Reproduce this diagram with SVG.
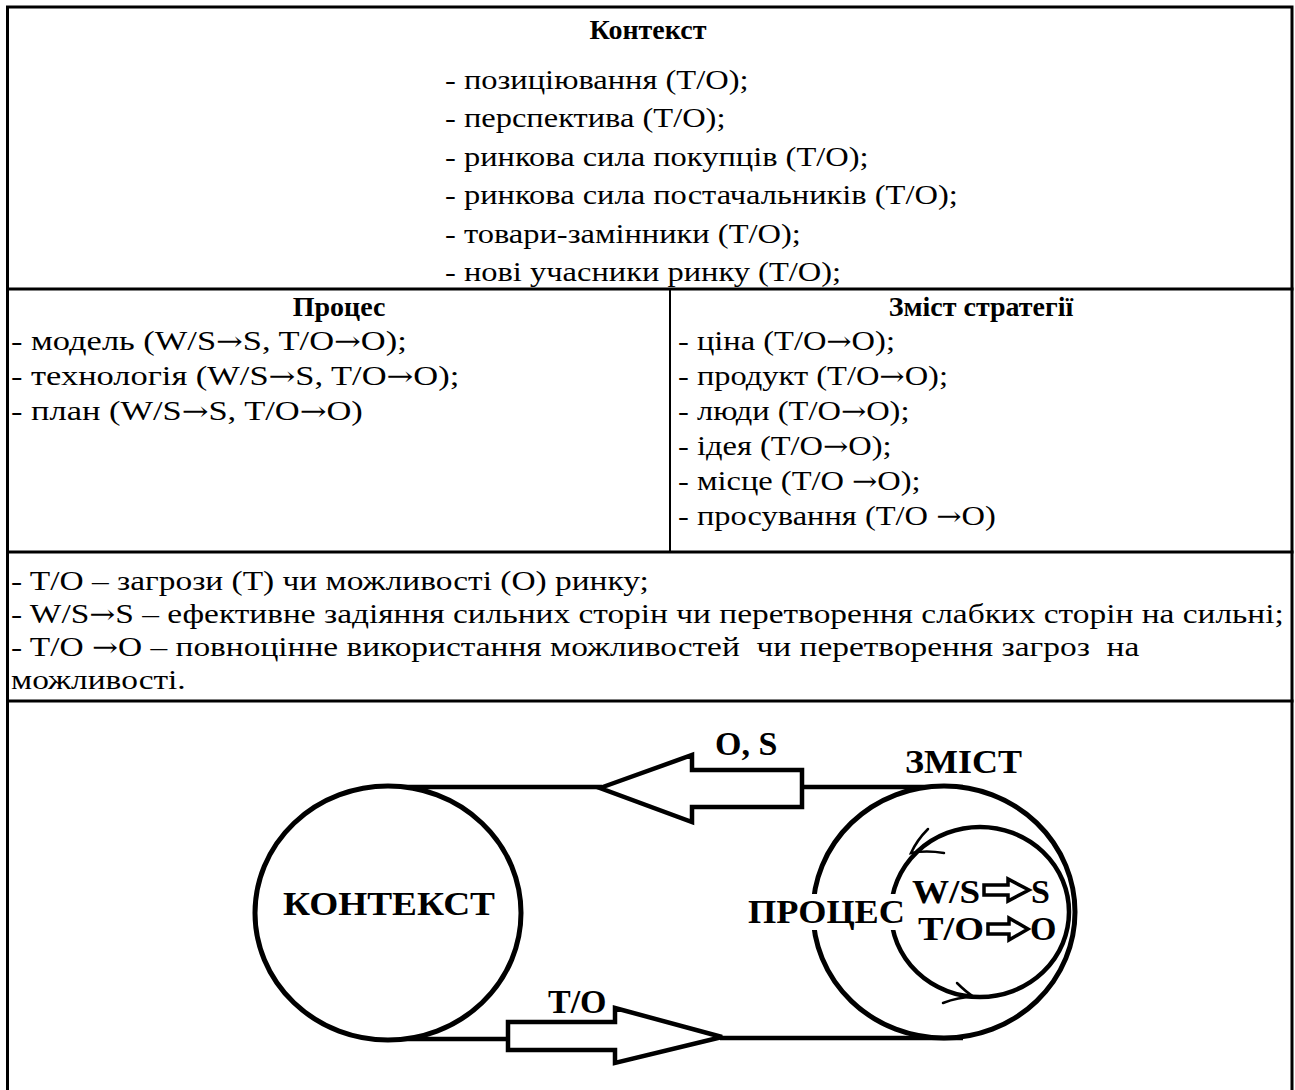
<svg xmlns="http://www.w3.org/2000/svg" width="1295" height="1090" viewBox="0 0 1295 1090">
  <style>
    .t { font-family: "Liberation Serif", "Times New Roman", serif; font-size: 28px; fill: #000; white-space: pre; }
    .ar { font-family: "DejaVu Serif", serif; font-size: 26px; }
    .b { font-weight: bold; }
    .mid { text-anchor: middle; }
    .lbl { font-family: "Liberation Serif", "Times New Roman", serif; font-size: 34px; font-weight: bold; fill: #000; }
    .grid { stroke: #000; stroke-width: 3; fill: none; }
    .thin { stroke: #000; stroke-width: 2; fill: none; }
    .ring { stroke: #000; stroke-width: 5; fill: #fff; }
    .wire { stroke: #000; stroke-width: 4.5; fill: none; }
    .fat { stroke: #000; stroke-width: 4.5; fill: #fff; stroke-linejoin: miter; }
    .small { stroke: #000; stroke-width: 3.5; fill: #fff; stroke-linejoin: miter; }
    .tick { stroke: #000; stroke-width: 2.5; fill: none; stroke-linecap: round; }
  </style>
  <rect width="1295" height="1090" fill="#fff"/>

  <!-- table frame -->
  <g id="table">
    <path class="grid" d="M7.5,1090 V7 H1292 V1090"/>
    <line class="grid" x1="6" y1="289" x2="1293.5" y2="289"/>
    <line class="grid" x1="6" y1="552" x2="1293.5" y2="552"/>
    <line class="grid" x1="6" y1="701" x2="1293.5" y2="701"/>
    <line class="thin" x1="670" y1="289" x2="670" y2="552"/>
  </g>

  <!-- context cell -->
  <g id="context-cell">
    <text class="t b mid" x="648" y="39">Контекст</text>
    <g transform="translate(445,0) scale(1.16,1)">
      <text class="t" x="0" y="89">- позиціювання (T/O);</text>
      <text class="t" x="0" y="127">- перспектива (T/O);</text>
      <text class="t" x="0" y="166">- ринкова сила покупців (T/O);</text>
      <text class="t" x="0" y="204">- ринкова сила постачальників (T/O);</text>
      <text class="t" x="0" y="243">- товари-замінники (T/O);</text>
      <text class="t" x="0" y="281">- нові учасники ринку (T/O);</text>
    </g>
  </g>

  <!-- process cell -->
  <g id="process-cell">
    <text class="t b mid" x="339" y="316">Процес</text>
    <g transform="translate(11,0) scale(1.23,1)">
      <text class="t" x="0" y="350">- модель (W/S<tspan class="ar">→</tspan>S, T/O<tspan class="ar">→</tspan>O);</text>
      <text class="t" x="0" y="385">- технологія (W/S<tspan class="ar">→</tspan>S, T/O<tspan class="ar">→</tspan>O);</text>
      <text class="t" x="0" y="420">- план (W/S<tspan class="ar">→</tspan>S, T/O<tspan class="ar">→</tspan>O)</text>
    </g>
  </g>

  <!-- strategy content cell -->
  <g id="content-cell">
    <text class="t b mid" x="981" y="316">Зміст стратегії</text>
    <g transform="translate(678,0) scale(1.16,1)">
      <text class="t" x="0" y="350">- ціна (T/O<tspan class="ar">→</tspan>O);</text>
      <text class="t" x="0" y="385">- продукт (T/O<tspan class="ar">→</tspan>O);</text>
      <text class="t" x="0" y="420">- люди (T/O<tspan class="ar">→</tspan>O);</text>
      <text class="t" x="0" y="455">- ідея (T/O<tspan class="ar">→</tspan>O);</text>
      <text class="t" x="0" y="490">- місце (T/O <tspan class="ar">→</tspan>O);</text>
      <text class="t" x="0" y="525">- просування (T/O <tspan class="ar">→</tspan>O)</text>
    </g>
  </g>

  <!-- legend cell -->
  <g id="legend-cell">
    <g transform="translate(11,0) scale(1.193,1)">
      <text class="t" x="0" y="590">- T/O – загрози (T) чи можливості (O) ринку;</text>
      <text class="t" x="0" y="623">- W/S<tspan class="ar">→</tspan>S – ефективне задіяння сильних сторін чи перетворення слабких сторін на сильні;</text>
      <text class="t" x="0" y="656">- T/O <tspan class="ar">→</tspan>O – повноцінне використання можливостей  чи перетворення загроз  на</text>
      <text class="t" x="0" y="689">можливості.</text>
    </g>
  </g>

  <!-- connectors between the two circles -->
  <g id="connectors">
    <line class="wire" x1="385" y1="787" x2="602" y2="787"/>
    <line class="wire" x1="802" y1="787" x2="963" y2="787"/>
    <line class="wire" x1="385" y1="1039" x2="508" y2="1039"/>
    <line class="wire" x1="720" y1="1038" x2="963" y2="1038"/>
    <polygon class="fat" points="600,788 692,755 692,770 802,770 802,807 692,807 692,822"/>
    <polygon class="fat" points="508,1022 615,1022 615,1008 722,1037 615,1063 615,1050 508,1050"/>
    <text class="lbl" x="715" y="755">O, S</text>
    <text class="lbl" x="548" y="1013">T/O</text>
  </g>

  <!-- context circle -->
  <g id="node-context">
    <ellipse class="ring" cx="388" cy="913" rx="133" ry="127"/>
    <text class="lbl" x="283" y="915" textLength="212" lengthAdjust="spacingAndGlyphs">КОНТЕКСТ</text>
  </g>

  <!-- content circle -->
  <g id="node-content">
    <ellipse class="ring" cx="944" cy="912" rx="131" ry="126"/>
    <text class="lbl" x="905" y="773" textLength="117" lengthAdjust="spacingAndGlyphs">ЗМІСТ</text>
  </g>

  <!-- inner process loop -->
  <g id="node-process">
    <ellipse class="wire" cx="980" cy="912" rx="89" ry="85"/>
    <path class="tick" d="M928,829 Q917,840 911,853 Q926,850 944,853"/>
    <path class="tick" d="M957,983 Q966,992 974,997 M943,1003 Q958,997 974,997"/>
    <rect x="745" y="894" width="163" height="36" fill="#fff"/>
    <text class="lbl" x="748" y="923" textLength="157" lengthAdjust="spacingAndGlyphs">ПРОЦЕС</text>
    <text class="lbl" x="912" y="903" textLength="68" lengthAdjust="spacingAndGlyphs">W/S</text>
    <polygon class="small" points="984,885 1008,885 1008,879 1029,890 1008,901 1008,895 984,895"/>
    <text class="lbl" x="1031" y="903">S</text>
    <text class="lbl" x="918" y="940" textLength="66" lengthAdjust="spacingAndGlyphs">T/O</text>
    <polygon class="small" points="988,924 1009,924 1009,918 1028,929 1009,940 1009,934 988,934"/>
    <text class="lbl" x="1030" y="940">O</text>
  </g>
</svg>
